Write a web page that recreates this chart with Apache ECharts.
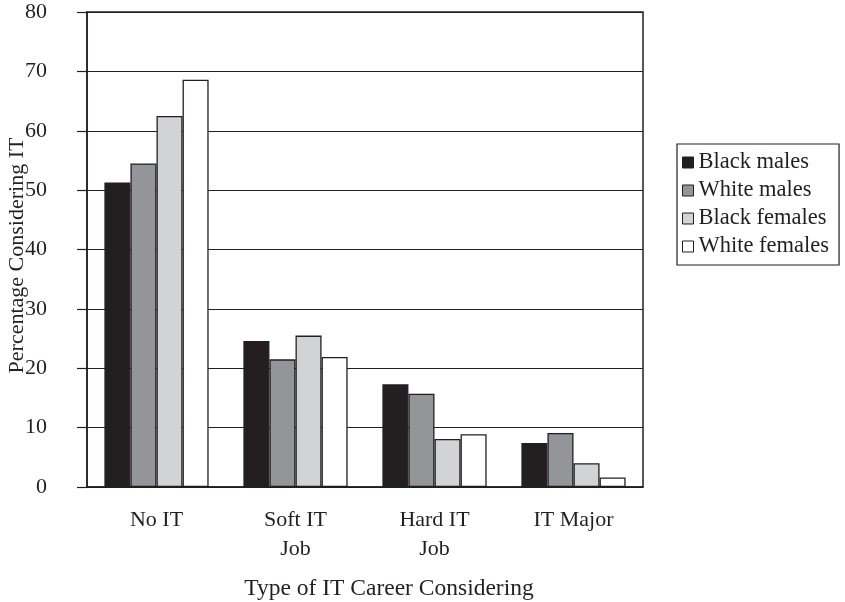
<!DOCTYPE html>
<html>
<head>
<meta charset="utf-8">
<script src="https://cdn.jsdelivr.net/npm/echarts@6/dist/echarts.min.js"></script>
<style>html,body{margin:0;padding:0;background:#fff}#c{width:845px;height:602px}</style>
</head>
<body>
<div id="c"></div>
<script>
const categories = ['No IT', 'Soft IT\nJob', 'Hard IT\nJob', 'IT Major'];
const seriesNames = ['Black males', 'White males', 'Black females', 'White females'];
const blackMales = [51.3, 24.6, 17.3, 7.4];
const whiteMales = [54.5, 21.5, 15.7, 9.1];
const blackFemales = [62.5, 25.5, 8.1, 4.0];
const whiteFemales = [68.6, 21.9, 8.9, 1.6];
const yTicks = [0, 10, 20, 30, 40, 50, 60, 70, 80];

const ink = '#231f20';
const font = 'Liberation Serif';
const fills = ['#231f20', '#939598', '#d1d3d4', '#ffffff'];
const values = [blackMales, whiteMales, blackFemales, whiteFemales];

const chart = echarts.init(document.getElementById('c'), null, {renderer: 'canvas'});
chart.setOption({
  animation: false,
  backgroundColor: '#fff',
  textStyle: {fontFamily: font, color: ink},
  grid: {left: 87, right: 202, top: 12, bottom: 115, show: true, borderColor: ink, borderWidth: 1.5,
         containLabel: false, outerBoundsMode: 'none'},
  legend: {
    orient: 'vertical', left: 677, top: 144,
    data: seriesNames,
    icon: 'rect', itemWidth: 11, itemHeight: 11, itemGap: 5,
    borderColor: ink, borderWidth: 1.2, padding: [7, 10, 7, 5],
    textStyle: {fontFamily: font, fontSize: 22.5, color: ink, padding: [0, 0, 0, 0]},
    itemStyle: {borderColor: ink, borderWidth: 1}
  },
  xAxis: {
    type: 'category', data: categories,
    name: 'Type of IT Career Considering', nameLocation: 'middle', nameGap: 90,
    nameTextStyle: {fontFamily: font, fontSize: 23.5, color: ink, padding: [0, 0, 0, 48]},
    axisLine: {lineStyle: {color: ink, width: 1.5}},
    axisTick: {show: false},
    axisLabel: {fontFamily: font, fontSize: 22, color: ink, margin: 19, lineHeight: 29}
  },
  yAxis: {
    type: 'value', min: yTicks[0], max: yTicks[yTicks.length - 1], interval: 10,
    name: 'Percentage Considering IT', nameLocation: 'middle', nameGap: 59,
    nameMoveOverlap: false,
    nameTextStyle: {fontFamily: font, fontSize: 22, color: ink, padding: [0, 12, 0, 0]},
    axisLine: {show: true, lineStyle: {color: ink, width: 1.5}},
    axisTick: {show: true, length: 10, lineStyle: {color: ink, width: 1.2}},
    axisLabel: {fontFamily: font, fontSize: 22, color: ink, margin: 40},
    splitLine: {show: true, lineStyle: {color: ink, width: 1.2}}
  },
  series: seriesNames.map((n, i) => ({
    name: n, type: 'bar', data: values[i],
    barGap: '0%', barCategoryGap: '25%',
    itemStyle: {color: fills[i], borderColor: ink, borderWidth: 1.3}
  }))
});
</script>
</body>
</html>
